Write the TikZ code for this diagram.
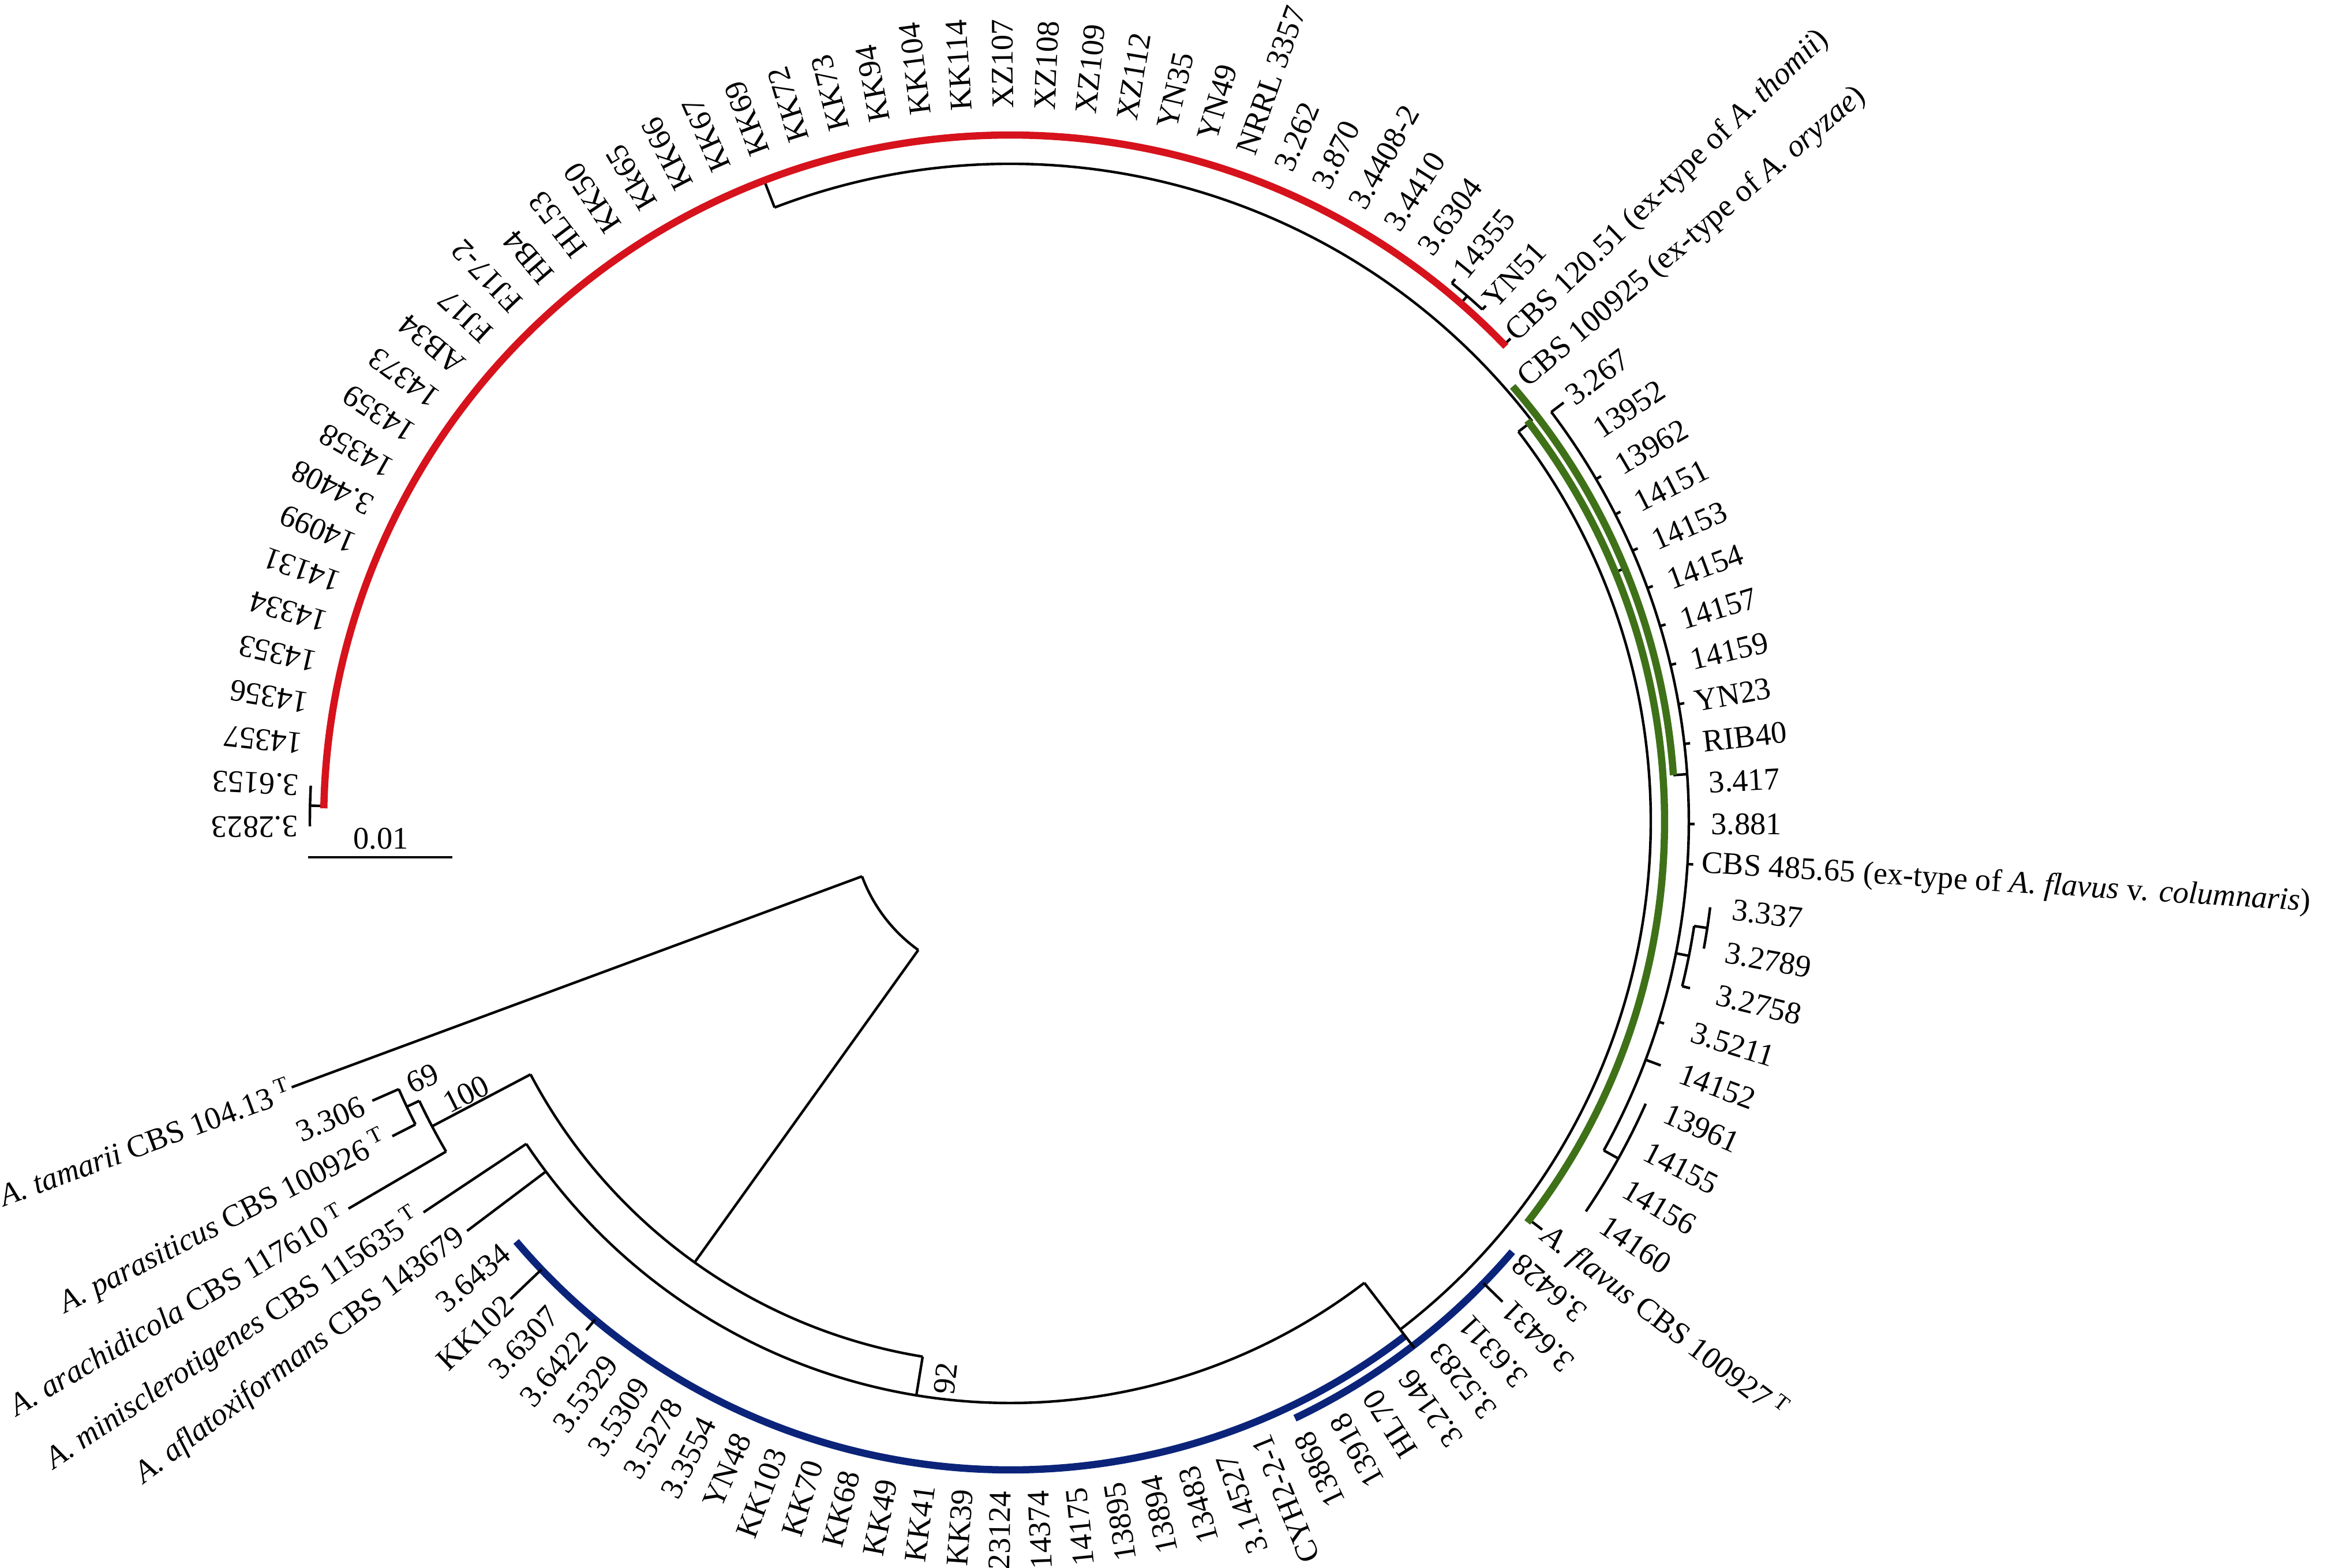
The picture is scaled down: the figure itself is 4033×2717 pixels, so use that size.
\documentclass[tikz,border=0pt]{standalone}
\usepackage{fontspec}
\setmainfont{Liberation Serif}
\definecolor{cred}{RGB}{214,18,28}
\definecolor{cgreen}{RGB}{63,113,25}
\definecolor{cblue}{RGB}{11,36,122}
\newcommand\treearc[4][]{\draw[br,#1] (#3:#2) arc[start angle=#3, end angle=#4, radius=#2];}
\newcommand\treeray[4][]{\draw[br,#1] (#2:#3) -- (#2:#4);}
\newcommand\typemark{\hspace{0.18em}\textsuperscript{T}}
\begin{document}
\begin{tikzpicture}[x=0.01cm,y=0.01cm,
  br/.style={line width=0.044cm, line cap=butt},
  lbl/.style={inner sep=0pt, font=\fontsize{15.5}{17}\selectfont},
  clade/.style={line width=0.125cm, line cap=butt}]
\useasboundingbox (-1751,-1293) rectangle (2282,1424);
% root and outgroups
\treearc{274}{200.3}{234.4}
\treeray{200.3}{274}{1328}
\treeray{234.4}{274}{940}
\treearc{940}{207.8}{260.7}
\treeray{207.8}{940}{1133}
\treearc{1133}{205.3}{210.33}
\treeray{210.33}{1133}{1329}
\treeray{205.3}{1133}{1157}
\treearc{1157}{203.64}{206.99}
\treeray{203.64}{1157}{1207}
\treeray{206.99}{1157}{1202}
\treeray{260.7}{940}{1008}
\treearc{1008}{213.67}{307.5}
\treeray{213.67}{1008}{1222}
\treeray{217.01}{1008}{1179}
% ingroup backbone
\treearc{1110}{-52.5}{37.5}
\treeray{37.5}{1110}{1140}
\treearc{1140}{37.5}{111}
\treeray{111}{1140}{1190}
\treeray{22.4}{1134}{1152}
\treeray{-37.5}{1134}{1162}
\treeray{4.0}{1152}{1177}
\treearc{1176}{-29.0}{37.13}
\treeray{37.13}{1176}{1203}
\foreach \ang in {30.31,26.92,23.53,20.13,16.74,13.35,9.96,6.57,-0.21,-3.60,-17.17}
  {\treeray{\ang}{1176}{1186}}
\treeray{-20.56}{1176}{1204}
\treeray{-11.2}{1176}{1199}
\treearc{1199}{-13.78}{-8.69}
\treeray{-13.78}{1199}{1213}
\treeray{-8.69}{1199}{1222}
\treearc{1222}{-10.39}{-6.99}
\treeray{-29.0}{1176}{1205}
\treearc{1205}{-34.12}{-23.95}
% red clade details
\treeray{178.7}{1190}{1214}
\treearc{1214}{177.07}{180.4}
\treeray{49.0}{1190}{1207}
\treearc{1207}{47.33}{50.65}
\treeray{50.65}{1207}{1216}
\treeray{47.33}{1207}{1216}
\treeray{44.0}{1186}{1205}
% coloured clade arcs
\treearc[cred,clade]{1190}{43.8}{178.9}
\treearc[cgreen,clade]{1152}{4.0}{40.9}
\treearc[cgreen,clade]{1134}{-37.8}{37.8}
\treearc[cblue,clade]{1124}{-139.64}{-52.5}
\treearc[cblue,clade]{1146}{-64.5}{-40.6}
% black over coloured
\treeray{-52.5}{1008}{1150}
\treeray{-44.3}{1146}{1192}
\treeray{-136.3}{1124}{1198}
\treeray{-129.81}{1124}{1148}
% tip labels: index / angle / text / radius
\foreach \kk/\ang/\lab/\rr in {
1/180.40/3.2823/1234, 2/177.07/3.6153/1234, 3/173.75/14357/1234,
4/170.42/14356/1234, 5/167.09/14353/1234, 6/163.77/14334/1234,
7/160.44/14131/1234, 8/157.11/14099/1234, 9/153.79/3.4408/1234,
10/150.46/14358/1234, 11/147.13/14359/1234, 12/143.81/14373/1234,
13/140.48/AB34/1234, 14/137.15/FJ17/1234, 15/133.82/FJ17-2/1234,
16/130.50/HB4/1234, 17/127.17/HL53/1234, 18/123.84/KK50/1234,
19/120.52/Kk65/1234, 20/117.19/KK66/1234, 21/113.86/KK67/1234,
22/110.54/KK69/1234, 23/107.21/KK72/1234, 24/103.88/KK73/1234,
25/100.56/KK94/1234, 26/97.23/KK104/1234, 27/93.90/KK114/1234,
28/90.58/XZ107/1236, 29/87.25/XZ108/1234, 30/83.92/XZ109/1234,
31/80.60/XZ112/1232, 32/77.27/YN35/1232, 33/73.94/YN49/1230,
34/70.62/NRRL 3357/1227, 35/67.29/3.262/1225, 36/63.96/3.870/1224,
37/60.64/3.4408-2/1223, 38/57.31/3.4410/1222, 39/53.98/3.6304/1221,
40/50.65/14355/1226, 41/47.33/YN51/1222,
42/44.00/{CBS 120.51 (ex-type of \textit{A. thomii})}/1208,
43/40.57/{CBS 100925 (ex-type of \textit{A. oryzae})}/1170,
44/37.13/3.267/1214, 45/33.70/13952/1220, 46/30.31/13962/1218,
47/26.92/14151/1216, 48/23.53/14153/1215, 49/20.13/14154/1214,
50/16.74/14157/1213, 51/13.35/14159/1212, 52/9.96/YN23/1204,
53/6.57/RIB40/1208, 54/3.18/3.417/1212, 55/-0.21/3.881/1214,
56/-3.60/{CBS 485.65 (ex-type of \textit{A. flavus} v. \textit{columnaris})}/1200,
57/-6.99/3.337/1260, 58/-10.39/3.2789/1260, 59/-13.78/3.2758/1260,
60/-17.17/3.5211/1236, 61/-20.56/14152/1240, 62/-23.95/13961/1242,
63/-27.34/14155/1240, 64/-30.73/14156/1240, 65/-34.12/14160/1240,
66/-37.51/{\textit{A. flavus} CBS 100927\typemark}/1168,
67/-40.91/3.6428/1160, 68/-44.30/3.6431/1202, 69/-47.67/3.6311/1168,
70/-51.03/3.5283/1172, 71/-54.40/3.2146/1176, 72/-57.77/HL70/1170,
73/-61.13/13918/1176, 74/-64.50/13868/1176, 75/-67.87/CYH2-2-1/1150,
76/-71.23/3.14527/1160, 77/-74.60/13483/1160, 78/-77.85/13894/1160,
79/-81.09/13895/1160, 80/-84.34/14175/1160, 81/-87.59/14374/1160,
82/-90.84/23124/1160, 83/-94.08/KK39/1160, 84/-97.33/KK41/1160,
85/-100.58/KK49/1160, 86/-103.83/KK68/1160, 87/-107.07/KK70/1160,
88/-110.32/KK103/1160, 89/-113.57/YN48/1160, 90/-116.82/3.3554/1160,
91/-120.06/3.5278/1160, 92/-123.31/3.5309/1160, 93/-126.56/3.5329/1160,
94/-129.81/3.6422/1160, 95/-133.05/3.6307/1160, 96/-136.30/KK102/1202,
97/-139.64/3.6434/1146,
98/217.01/{\textit{A. aflatoxiformans} CBS 143679}/1190,
99/213.67/{\textit{A. minisclerotigenes} CBS 115635\typemark}/1232,
100/210.33/{\textit{A. arachidicola} CBS 117610\typemark}/1340,
101/206.99/{\textit{A. parasiticus} CBS 100926\typemark}/1214,
102/203.64/3.306/1224,
103/200.30/{\textit{A. tamarii} CBS 104.13\typemark}/1330}
{
  \ifnum\kk<67
    \node[lbl, rotate=\ang, anchor=west] (t\kk) at (\ang:\rr) {\lab};
  \else
    \node[lbl, rotate=\ang+180, anchor=east] (t\kk) at (\ang:\rr) {\lab};
  \fi
}
% bootstrap values
\node[lbl, rotate=23.6] (b69) at (203.6:1112) {69};
\node[lbl, rotate=26.6] (b100) at (206.6:1055) {100};
\node[lbl, rotate=83.4] (b92) at (263.4:972) {92};
% scale bar
\coordinate (sbl) at (-1217,-62);
\coordinate (sbr) at (-967,-62);
\draw[br] (sbl) -- (sbr);
\node[lbl] (sbt) at (-1091,-30) {0.01};
\end{tikzpicture}
\end{document}
